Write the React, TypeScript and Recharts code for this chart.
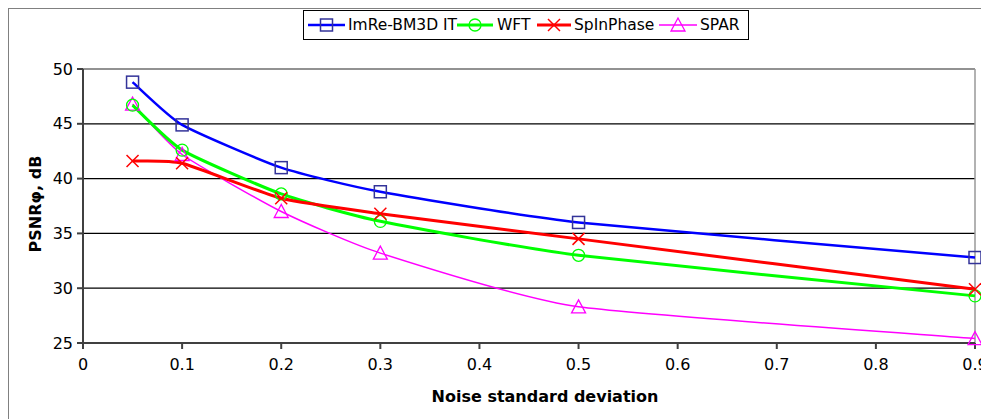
import React from "react";
import { LineChart, Line, XAxis, YAxis, CartesianGrid, ReferenceLine, Label } from "recharts";

const noise = [0.05, 0.1, 0.2, 0.3, 0.5, 0.9];
const imre = [48.8, 44.9, 41.0, 38.8, 36.0, 32.8];
const wft = [46.7, 42.6, 38.6, 36.1, 33.0, 29.3];
const spin = [41.6, 41.4, 38.2, 36.8, 34.5, 29.9];
const spar = [46.8, 42.2, 37.0, 33.2, 28.3, 25.4];
const xTicks = [0, 0.1, 0.2, 0.3, 0.4, 0.5, 0.6, 0.7, 0.8, 0.9];
const yTicks = [25, 30, 35, 40, 45, 50];
const seriesNames = ["ImRe-BM3D IT", "WFT", "SpInPhase", "SPAR"];

const data = noise.map((x, i) => ({ x, imre: imre[i], wft: wft[i], spin: spin[i], spar: spar[i] }));

const FONT = "'DejaVu Sans', sans-serif";
const FS = 16;

// Lightly smoothed line (Catmull-Rom style tangents, reduced tension)
const smoothCurve = (context: any) => {
  let pts: [number, number][] = [];
  const k = 1 / 11;
  return {
    areaStart() {},
    areaEnd() {},
    lineStart() {
      pts = [];
    },
    lineEnd() {
      if (!pts.length) return;
      context.moveTo(pts[0][0], pts[0][1]);
      for (let i = 0; i < pts.length - 1; i++) {
        const p0 = pts[Math.max(i - 1, 0)];
        const p1 = pts[i];
        const p2 = pts[i + 1];
        const p3 = pts[Math.min(i + 2, pts.length - 1)];
        const c1x = p1[0] + (p2[0] - p0[0]) * k;
        const c1y = p1[1] + (p2[1] - p0[1]) * k;
        const c2x = p2[0] - (p3[0] - p1[0]) * k;
        const c2y = p2[1] - (p3[1] - p1[1]) * k;
        context.bezierCurveTo(c1x, c1y, c2x, c2y, p2[0], p2[1]);
      }
    },
    point(x: number, y: number) {
      pts.push([+x, +y]);
    },
  };
};

const Square = (props: any) => {
  const { cx, cy } = props;
  if (cx == null || cy == null) return null;
  return <rect x={cx - 6} y={cy - 6} width={12} height={12} fill="none" stroke="#333399" strokeWidth={1.5} />;
};
const Circ = (props: any) => {
  const { cx, cy } = props;
  if (cx == null || cy == null) return null;
  return <circle cx={cx} cy={cy} r={6} fill="none" stroke="#00ff00" strokeWidth={1.3} />;
};
const Cross = (props: any) => {
  const { cx, cy } = props;
  if (cx == null || cy == null) return null;
  return (
    <g stroke="#ff0000" strokeWidth={1.5}>
      <line x1={cx - 6} y1={cy - 6} x2={cx + 6} y2={cy + 6} />
      <line x1={cx - 6} y1={cy + 6} x2={cx + 6} y2={cy - 6} />
    </g>
  );
};
const Tri = (props: any) => {
  const { cx, cy } = props;
  if (cx == null || cy == null) return null;
  return <polygon points={`${cx},${cy - 7} ${cx - 7},${cy + 6} ${cx + 7},${cy + 6}`} fill="none" stroke="#ff00ff" strokeWidth={1.3} />;
};

const legendItems = [
  { color: "#0000ff", w: 2.5, marker: "sq", iconX: 4, iconW: 37, textX: 44 },
  { color: "#00ff00", w: 3, marker: "ci", iconX: 153, iconW: 36, textX: 193 },
  { color: "#ff0000", w: 3, marker: "x", iconX: 233, iconW: 34, textX: 270 },
  { color: "#ff00ff", w: 1.5, marker: "tr", iconX: 355, iconW: 38, textX: 396 },
];

const LegendBox = () => (
  <div
    style={{
      position: "absolute",
      top: 1,
      left: 294,
      width: 444,
      height: 28,
      border: "1px solid #000",
      fontFamily: FONT,
      fontSize: 15.5,
      color: "#000",
      background: "#fff",
      boxSizing: "content-box",
    }}
  >
    {seriesNames.map((n, i) => {
      const s = legendItems[i];
      const cx = s.iconW / 2, cy = 10;
      return (
        <React.Fragment key={n}>
          <svg width={s.iconW} height={20} style={{ position: "absolute", left: s.iconX, top: 4 }}>
            <line x1={0} y1={cy} x2={s.iconW} y2={cy} stroke={s.color} strokeWidth={s.w} />
            {s.marker === "sq" && <Square cx={cx} cy={cy} />}
            {s.marker === "ci" && <Circ cx={cx} cy={cy} />}
            {s.marker === "x" && <Cross cx={cx} cy={cy} />}
            {s.marker === "tr" && <Tri cx={cx} cy={cy} />}
          </svg>
          <span style={{ position: "absolute", left: s.textX, top: 4, lineHeight: "20px", whiteSpace: "nowrap" }}>{n}</span>
        </React.Fragment>
      );
    })}
  </div>
);

export default function App() {
  return (
    <div style={{ position: "relative", borderTop: "1px solid #808080", borderLeft: "1px solid #808080", width: 980, height: 410, background: "#fff" }}>
      <LineChart width={980} height={410} data={data} margin={{ top: 60, right: 14, left: 0, bottom: 0 }}>
        <CartesianGrid vertical={false} stroke="#000" strokeWidth={1.2} />
        <ReferenceLine y={50} stroke="#999" strokeWidth={1.5} />
        <ReferenceLine x={0.9} stroke="#999" strokeWidth={1.5} />
        <XAxis
          dataKey="x"
          type="number"
          domain={[0, 0.9]}
          ticks={xTicks}
          height={76}
          tickSize={6}
          tickMargin={10}
          stroke="#404040"
          strokeWidth={2}
          tick={{ fill: "#000", fontSize: FS, fontFamily: FONT }}
          tickFormatter={(v: number) => String(v)}
        >
          <Label value="Noise standard deviation" position="insideBottom" offset={17} dx={16}
            style={{ fontFamily: FONT, fontSize: FS, fontWeight: "bold", fill: "#000" }} />
        </XAxis>
        <YAxis
          type="number"
          domain={[25, 50]}
          ticks={yTicks}
          width={74}
          tickSize={6}
          tickMargin={4}
          stroke="#404040"
          strokeWidth={2}
          tick={{ fill: "#000", fontSize: FS, fontFamily: FONT }}
        >
          <Label value="PSNRφ, dB" angle={-90} position="insideLeft" offset={26} dy={-2}
            style={{ fontFamily: FONT, fontSize: FS, fontWeight: "bold", fill: "#000", textAnchor: "middle" }} />
        </YAxis>
        <Line name={seriesNames[3]} dataKey="spar" type={smoothCurve as any} stroke="#ff00ff" strokeWidth={1.5} dot={<Tri />} isAnimationActive={false} />
        <Line name={seriesNames[1]} dataKey="wft" type={smoothCurve as any} stroke="#00ff00" strokeWidth={3} dot={<Circ />} isAnimationActive={false} />
        <Line name={seriesNames[2]} dataKey="spin" type={smoothCurve as any} stroke="#ff0000" strokeWidth={3} dot={<Cross />} isAnimationActive={false} />
        <Line name={seriesNames[0]} dataKey="imre" type={smoothCurve as any} stroke="#0000ff" strokeWidth={2.5} dot={<Square />} isAnimationActive={false} />
      </LineChart>
      <LegendBox />
    </div>
  );
}
